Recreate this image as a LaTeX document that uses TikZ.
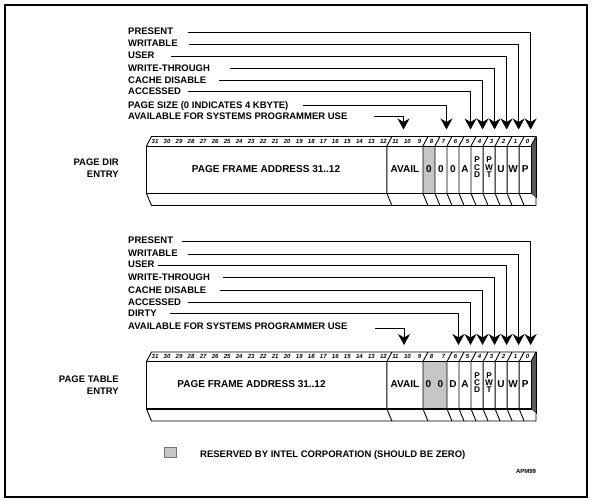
\documentclass[tikz,border=0pt]{standalone}
\usepackage{fontspec}
\setmainfont{Liberation Sans}
\usetikzlibrary{arrows.meta}
\definecolor{resgray}{RGB}{198,198,198}
\definecolor{sidegray}{RGB}{88,88,88}
\newcommand\cx[1]{146.5+(31.5-#1)*12.02}
\newcommand\kx[1]{146.5+#1*12.02}
\newcommand\registerframe{%
  \fill[sidegray] (531,146) -- (536,136.5) -- (536,198) -- (531,193.5) -- cycle;
  \draw[edge] (146.5,146) rectangle (531,193.5);
  \draw[edge] (146.5,146) -- (151.5,136.5) -- (536,136.5) -- (531,146);
  \draw[edge] (146.5,193.5) -- (151.5,205.5) -- (536,205.5) -- (536,198);
  \draw[edge] (536,136.5) -- (536,198);
}
\newcommand\regsep[1]{%
  \draw[edge] ({\kx{#1}+5},136.5) -- ({\kx{#1}},146) -- ({\kx{#1}},193.5) -- ({\kx{#1}+5},205.5);
}
\tikzset{
  lbl/.style={font=\fontsize{9.5}{9.5}\selectfont\bfseries, inner sep=0pt, anchor=west, text height=6.8pt, text depth=0pt},
  cell/.style={font=\fontsize{10}{10}\selectfont\bfseries, inner sep=0pt, text height=7.2pt, text depth=0pt},
  stack/.style={font=\fontsize{8.3}{7.2}\selectfont\bfseries, inner sep=0pt, align=center},
  bitnum/.style={font=\fontsize{6}{6}\selectfont\bfseries\itshape, inner sep=0pt, text height=4.3pt, text depth=0pt},
  side/.style={font=\fontsize{9.5}{12.5}\selectfont\bfseries, inner sep=0pt, align=right, anchor=east},
  edge/.style={line width=0.9pt},
  frame/.style={line width=2pt},
  ptr/.style={line width=1pt, -{Stealth[length=11pt,width=12pt,inset=3.5pt]}},
}
\begin{document}
\begin{tikzpicture}[x=1pt,y=-1pt]
\useasboundingbox (0,0) rectangle (594,503);
\draw[frame] (5,5) rectangle (587,497);

% ================= PAGE DIRECTORY ENTRY =================
\begin{scope}
  \fill[resgray] ({\kx{23}},146) rectangle ({\kx{24}},193.5);
  \registerframe
  \foreach \k in {20,23,24,25,26,27,28,29,30,31} {\regsep{\k}}
  \foreach \b in {0,...,31} {\node[bitnum] (pd-b\b) at ({\cx{\b}+2.5},141.3) {\b};}
  \node[cell] (pd-addr) at (266,168.5) {PAGE FRAME ADDRESS 31..12};
  \node[cell] (pd-avail) at ({\cx{10}},168.5) {AVAIL};
  \node[cell] (pd-c8) at ({\cx{8}},168.5) {0};
  \node[cell] (pd-c7) at ({\cx{7}},168.5) {0};
  \node[cell] (pd-c6) at ({\cx{6}},168.5) {0};
  \node[cell] (pd-c5) at ({\cx{5}},168.5) {A};
  \node[stack] (pd-c4) at ({\cx{4}},167.3) {P\\C\\D};
  \node[stack] (pd-c3) at ({\cx{3}},167.3) {P\\W\\T};
  \node[cell] (pd-c2) at ({\cx{2}},168.5) {U};
  \node[cell] (pd-c1) at ({\cx{1}},168.5) {W};
  \node[cell] (pd-c0) at ({\cx{0}},168.5) {P};
\end{scope}
\node[side] (pd-side) at (119,168) {PAGE DIR\\ENTRY};

% labels and pointers (page directory)
\node[lbl] (pd-l0) at (128,31.5) {PRESENT};
\node[lbl] (pd-l1) at (128,43.5) {WRITABLE};
\node[lbl] (pd-l2) at (128,55.5) {USER};
\node[lbl] (pd-l3) at (128,68.5) {WRITE-THROUGH};
\node[lbl] (pd-l4) at (128,80.3) {CACHE DISABLE};
\node[lbl] (pd-l5) at (128,91) {ACCESSED};
\node[lbl] (pd-l7) at (128,105) {PAGE SIZE (0 INDICATES 4 KBYTE)};
\node[lbl] (pd-lav) at (128,116) {AVAILABLE FOR SYSTEMS PROGRAMMER USE};

\coordinate (pd-s0) at (188,32.3);   \coordinate (pd-t0) at ({\cx{0}+5.5},129.5);
\coordinate (pd-s1) at (189,44.2);   \coordinate (pd-t1) at ({\cx{1}+5.5},129.5);
\coordinate (pd-s2) at (171,56.5);   \coordinate (pd-t2) at ({\cx{2}+5.5},129.5);
\coordinate (pd-s3) at (230,69);     \coordinate (pd-t3) at ({\cx{3}+5.5},129.5);
\coordinate (pd-s4) at (219,80.5);   \coordinate (pd-t4) at ({\cx{4}+5.5},129.5);
\coordinate (pd-s5) at (188,91.2);   \coordinate (pd-t5) at ({\cx{5}+5.5},129.5);
\coordinate (pd-s7) at (303,105);    \coordinate (pd-t7) at ({\cx{7}+5.5},129.5);
\coordinate (pd-sav) at (374,116.5); \coordinate (pd-tav) at (403.5,129.5);
\foreach \n in {0,1,2,3,4,5,7,av} {\draw[ptr] (pd-s\n) -| (pd-t\n);}

% ================= PAGE TABLE ENTRY =================
\begin{scope}[shift={(0,215.5)}]
  \fill[resgray] ({\kx{23}},146) rectangle ({\kx{25}},193.5);
  \registerframe
  \draw[line width=1.8pt] (146.5,193.5) -- (531,193.5);
  \foreach \k in {20,23,25,26,27,28,29,30,31} {\regsep{\k}}
  \foreach \b in {0,...,31} {\node[bitnum] (pt-b\b) at ({\cx{\b}+2.5},141.3) {\b};}
  \node[cell] (pt-addr) at (251.5,168.5) {PAGE FRAME ADDRESS 31..12};
  \node[cell] (pt-avail) at ({\cx{10}},168.5) {AVAIL};
  \node[cell] (pt-c8) at ({\cx{8}-0.5},168.5) {0};
  \node[cell] (pt-c7) at ({\cx{7}-0.5},168.5) {0};
  \node[cell] (pt-c6) at ({\cx{6}},168.5) {D};
  \node[cell] (pt-c5) at ({\cx{5}},168.5) {A};
  \node[stack] (pt-c4) at ({\cx{4}},167.3) {P\\C\\D};
  \node[stack] (pt-c3) at ({\cx{3}},167.3) {P\\W\\T};
  \node[cell] (pt-c2) at ({\cx{2}},168.5) {U};
  \node[cell] (pt-c1) at ({\cx{1}},168.5) {W};
  \node[cell] (pt-c0) at ({\cx{0}},168.5) {P};
\end{scope}
\node[side] (pt-side) at (119,385.3) {PAGE TABLE\\ENTRY};

% labels and pointers (page table)
\node[lbl] (pt-l0) at (128,240.5) {PRESENT};
\node[lbl] (pt-l1) at (128,253.5) {WRITABLE};
\node[lbl] (pt-l2) at (128,264.5) {USER};
\node[lbl] (pt-l3) at (128,277) {WRITE-THROUGH};
\node[lbl] (pt-l4) at (128,290.5) {CACHE DISABLE};
\node[lbl] (pt-l5) at (128,302) {ACCESSED};
\node[lbl] (pt-l6) at (128,313) {DIRTY};
\node[lbl] (pt-lav) at (128,326.5) {AVAILABLE FOR SYSTEMS PROGRAMMER USE};

\coordinate (pt-s0) at (182,241);    \coordinate (pt-t0) at ({\cx{0}+5.5},345);
\coordinate (pt-s1) at (188,254);    \coordinate (pt-t1) at ({\cx{1}+5.5},345);
\coordinate (pt-s2) at (158,265);    \coordinate (pt-t2) at ({\cx{2}+5.5},345);
\coordinate (pt-s3) at (223,277.3);  \coordinate (pt-t3) at ({\cx{3}+5.5},345);
\coordinate (pt-s4) at (220,290.5);  \coordinate (pt-t4) at ({\cx{4}+5.5},345);
\coordinate (pt-s5) at (188,302);    \coordinate (pt-t5) at ({\cx{5}+5.5},345);
\coordinate (pt-s6) at (170,313);    \coordinate (pt-t6) at ({\cx{6}+5.5},345);
\coordinate (pt-sav) at (375,328);   \coordinate (pt-tav) at (404,345);
\foreach \n in {0,1,2,3,4,5,6,av} {\draw[ptr] (pt-s\n) -| (pt-t\n);}

% ================= LEGEND =================
\node[draw=black!55, fill=resgray, line width=0.8pt, minimum width=12.5pt, minimum height=10.5pt, inner sep=0pt] (leg-box) at (170.3,452.3) {};
\node[lbl] (leg-text) at (200,454) {RESERVED BY INTEL CORPORATION (SHOULD BE ZERO)};
\node[font=\fontsize{6}{6}\selectfont\bfseries, inner sep=0pt] (apm) at (526,471) {APM99};
\end{tikzpicture}
\end{document}
